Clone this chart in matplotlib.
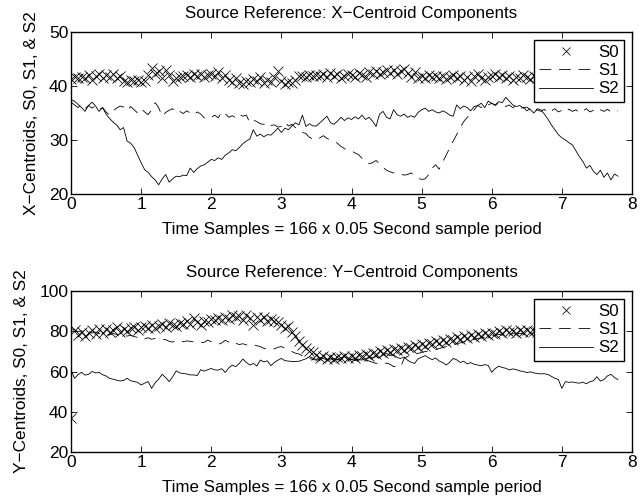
import numpy as np
import matplotlib
matplotlib.use("Agg")
import matplotlib.pyplot as plt

plt.rcParams['font.family'] = ['Liberation Sans', 'DejaVu Sans']

dt = 0.05
n_samples = 157

# ---- X-centroid components ----
x_s0 = [41.3, 41.6, 41.4, 41.7, 41.5, 42.0, 41.2, 41.8, 42.3, 41.5, 42.0, 41.7, 42.2, 41.4, 41.9, 41.0, 40.8, 41.2, 40.9, 41.1,
        40.8, 41.0, 42.0, 43.3, 42.2, 42.8, 41.5, 43.0, 42.0, 41.0, 41.4, 41.6, 41.8, 42.1, 41.7, 42.3, 41.9, 42.2, 41.6, 42.0,
        42.2, 41.8, 42.5, 41.5, 42.0, 41.2, 40.8, 41.5, 40.6, 40.4, 41.0, 40.7, 41.3, 40.9, 41.7, 40.5, 41.2, 40.8, 41.6, 42.7,
        41.0, 40.4, 40.8, 40.5, 41.2, 41.8, 41.9, 41.7, 42.0, 41.8, 42.1, 41.9, 42.3, 41.6, 42.4, 41.8, 42.2, 41.5, 41.9, 42.3,
        42.0, 41.6, 42.4, 42.1, 41.7, 42.5, 42.2, 42.8, 42.3, 42.6, 43.0, 42.4, 42.9, 42.2, 42.7, 43.2, 42.4, 41.6, 42.6, 41.5,
        41.8, 41.4, 42.0, 41.6, 41.9, 41.5, 41.8, 41.3, 41.7, 42.1, 41.4, 41.9, 41.2, 41.6, 41.0, 41.8, 42.2, 41.5, 41.1, 41.7,
        41.9, 42.3, 41.6, 42.0, 41.4, 41.8, 41.2, 41.7, 41.5, 42.0, 41.6, 41.3, 41.8, 41.5, 41.9, 41.4, 41.7, 41.2, 41.6, 41.8,
        41.5, 41.9, 41.3, 41.7, 41.4, 41.8, 41.6, 41.2, 41.7, 41.5, 41.9, 41.4, 41.6, 41.3, 41.8, 41.5, 41.7]
x_s1 = [37.0, 36.5, 36.0, 36.6, 35.8, 36.4, 35.9, 36.3, 35.6, 36.0, 35.2, 34.6, 35.4, 35.9, 36.3, 36.1, 35.4, 36.2, 35.6, 35.0,
        35.8, 35.2, 34.7, 35.6, 36.9, 36.0, 34.4, 35.1, 35.5, 35.8, 35.0, 35.3, 34.9, 35.4, 35.0, 34.6, 35.2, 34.8, 34.1, 33.9,
        34.2, 34.6, 34.1, 35.3, 34.9, 34.2, 34.5, 34.1, 34.8, 34.4, 34.6, 33.2, 33.7, 33.4, 33.0, 32.9, 33.3, 32.7, 32.8, 32.4,
        32.5, 33.3, 32.6, 32.9, 32.3, 31.8, 31.4, 31.2, 30.5, 30.2, 30.0, 30.4, 30.8, 30.3, 30.0, 29.8, 29.4, 28.8, 28.4, 28.1,
        28.0, 27.6, 27.3, 26.6, 26.0, 25.6, 25.8, 26.2, 25.6, 24.9, 24.4, 24.1, 23.9, 24.0, 23.7, 23.5, 23.6, 23.9, 23.4, 22.9,
        22.7, 22.8, 23.6, 24.8, 25.4, 24.6, 25.9, 27.2, 28.5, 29.8, 31.0, 32.3, 33.4, 34.2, 34.6, 35.6, 36.4, 36.0, 36.7, 36.5,
        36.8, 36.4, 36.9, 36.6, 36.2, 36.5, 36.0, 36.3, 35.7, 36.1, 35.4, 35.8, 35.1, 35.6, 35.3, 35.7, 35.0, 35.4, 35.8, 35.2,
        35.5, 35.1, 35.7, 35.3, 35.6, 35.0, 35.4, 35.8, 35.2, 35.5, 35.1, 35.6, 35.3, 35.7, 35.2, 35.5, 35.4]
x_s2 = [37.5, 37.2, 36.6, 36.0, 35.3, 36.4, 37.0, 36.3, 35.3, 36.0, 34.8, 34.0, 33.3, 32.8, 31.9, 32.3, 29.8, 29.4, 28.6, 27.2,
        25.8, 24.5, 24.0, 23.2, 22.6, 21.7, 22.8, 23.6, 22.2, 22.8, 23.3, 23.2, 23.5, 23.4, 24.8, 24.0, 24.7, 25.2, 25.4, 25.9,
        26.4, 26.2, 26.7, 26.4, 27.2, 27.6, 28.2, 28.0, 28.6, 29.3, 29.8, 30.2, 31.9, 30.7, 31.1, 30.6, 31.0, 30.9, 31.5, 32.2,
        31.4, 32.2, 31.9, 32.6, 33.2, 32.8, 34.6, 32.5, 33.0, 32.6, 32.6, 33.2, 33.8, 34.4, 33.2, 32.9, 33.5, 34.2, 33.6, 34.1,
        33.8, 34.3, 33.9, 34.6, 33.8, 34.2, 33.5, 32.5, 34.8, 35.3, 34.2, 33.9, 35.6, 34.7, 34.4, 34.8, 34.2, 34.5, 34.2, 35.1,
        35.6, 35.9, 35.3, 35.6, 35.2, 35.0, 35.4, 35.1, 34.6, 34.4, 36.5, 35.8, 36.3, 36.0, 35.4, 36.2, 36.4, 36.8, 36.0, 37.2,
        36.8, 36.5, 37.1, 36.9, 37.9, 37.2, 36.5, 36.2, 36.4, 35.9, 36.1, 35.6, 35.0, 35.8, 35.6, 34.8, 33.9, 32.8, 31.9, 31.0,
        30.4, 30.0, 29.5, 29.1, 28.0, 26.9, 26.0, 24.8, 25.3, 24.2, 23.6, 24.4, 23.1, 23.9, 22.6, 23.7, 23.3]

# ---- Y-centroid components ----
y_s0 = [37.0, 80.5, 78.2, 79.6, 77.8, 79.2, 80.6, 78.4, 80.9, 79.3, 81.0, 79.6, 80.4, 82.0, 79.8, 81.2, 80.1, 81.6, 82.3, 80.8,
        81.9, 82.8, 81.4, 83.2, 81.8, 82.6, 83.5, 82.1, 84.0, 83.1, 82.5, 84.3, 83.6, 85.0, 83.7, 86.8, 84.5, 83.0, 85.2, 84.6,
        86.0, 85.4, 86.6, 85.7, 87.1, 86.2, 88.3, 86.9, 87.6, 85.8, 88.0, 86.4, 83.0, 86.9, 85.4, 87.3, 84.9, 86.1, 85.0, 84.4,
        83.0, 81.5, 82.4, 79.6, 77.5, 75.3, 73.2, 71.6, 70.0, 69.6, 68.2, 66.8, 67.5, 66.2, 67.0, 66.4, 67.3, 66.6, 67.5, 66.9,
        67.8, 66.8, 68.4, 67.6, 68.9, 67.9, 69.2, 68.6, 70.1, 69.3, 70.6, 69.8, 71.2, 70.5, 71.8, 70.9, 72.4, 71.5, 73.1, 72.2,
        73.5, 72.8, 74.2, 73.6, 75.0, 74.1, 75.7, 74.9, 76.3, 75.5, 77.0, 76.2, 77.6, 76.8, 78.2, 77.1, 78.5, 77.7, 79.0, 78.0,
        79.3, 78.6, 80.0, 79.2, 80.6, 79.5, 80.2, 79.0, 80.4, 79.7, 80.8, 79.4, 80.3, 79.8, 80.7, 79.5, 80.1, 79.6, 80.5, 79.9,
        80.2, 79.5, 80.6, 79.8, 80.3, 79.6, 80.4, 79.9, 80.7, 79.4, 80.1, 79.7, 80.5, 79.8, 80.2, 79.6, 80.3]
y_s1 = [81.5, 80.6, 79.8, 80.2, 79.5, 79.9, 79.1, 79.6, 78.8, 79.3, 78.6, 78.2, 78.9, 78.4, 77.8, 78.3, 77.6, 78.0, 77.4, 76.9,
        77.3, 76.2, 76.8, 76.0, 76.5, 76.6, 76.0, 75.8, 75.0, 74.6, 75.4, 75.1, 74.8, 75.2, 75.0, 74.7, 74.9, 74.3, 74.5, 75.6,
        74.8, 73.9, 73.5, 74.2, 75.5, 74.6, 75.3, 74.0, 73.4, 73.8, 73.2, 73.6, 73.3, 72.8, 72.4, 71.5, 71.3, 71.8, 71.2, 72.0,
        72.4, 71.6, 70.8, 69.9, 69.1, 68.7, 67.8, 67.2, 66.5, 66.0, 65.6, 66.1, 65.8, 66.2, 65.7, 66.3, 66.0, 65.5, 66.1, 65.8,
        66.0, 65.4, 66.2, 65.7, 65.9, 65.2, 64.6, 64.0, 64.4, 63.8, 64.2, 63.6, 62.4, 62.8, 62.3, 66.4, 67.5, 68.2, 68.6, 69.0,
        69.5, 69.9, 70.2, 70.6, 70.8, 71.4, 71.9, 72.4, 72.8, 73.3, 73.8, 74.2, 74.7, 75.1, 75.6, 76.0, 76.4, 76.8, 77.1, 77.5,
        77.8, 78.1, 78.4, 78.2, 78.6, 78.5, 78.8, 78.6, 79.0, 78.7, 79.1, 78.9, 79.2, 78.8, 79.3, 79.0, 79.2, 78.9, 79.4, 79.1,
        79.3, 79.0, 79.4, 79.1, 79.5, 79.2, 79.4, 79.0, 79.3, 79.1, 79.5, 79.2, 79.4, 79.0, 79.3, 79.1, 79.4]
y_s2 = [60.7, 56.6, 58.4, 59.6, 58.2, 58.6, 60.0, 59.3, 59.5, 58.4, 57.8, 56.6, 56.2, 55.7, 55.3, 55.6, 56.6, 55.4, 55.0, 54.6,
        53.3, 54.2, 55.0, 51.6, 54.4, 56.2, 58.6, 57.0, 55.0, 57.4, 60.3, 59.3, 59.0, 58.8, 58.3, 58.3, 58.0, 60.9, 60.2, 60.9,
        61.5, 60.8, 60.7, 61.4, 59.5, 61.8, 63.2, 62.4, 64.0, 66.2, 64.5, 63.2, 64.0, 62.7, 65.7, 64.8, 65.3, 62.9, 64.5, 65.6,
        66.5, 65.4, 65.2, 64.9, 65.0, 65.1, 65.7, 66.3, 67.4, 66.6, 66.0, 67.0, 66.4, 65.9, 66.8, 66.2, 65.7, 66.9, 67.4, 66.6,
        66.0, 66.5, 65.9, 65.7, 66.4, 67.0, 66.8, 67.4, 67.0, 68.2, 69.0, 67.8, 68.4, 66.9, 66.5, 67.2, 65.6, 64.6, 64.0, 66.3,
        67.1, 67.9, 66.8, 65.9, 66.7, 65.2, 64.5, 63.2, 64.6, 66.5, 65.8, 64.5, 65.1, 63.8, 64.4, 63.6, 63.2, 62.9, 63.4, 63.0,
        59.6, 61.5, 62.6, 62.0, 61.6, 60.8, 61.3, 60.9, 60.3, 60.0, 59.5, 59.8, 59.3, 59.0, 58.8, 58.9, 58.5, 57.6, 56.6, 56.0,
        51.6, 55.0, 54.6, 54.8, 54.4, 54.2, 54.7, 53.9, 54.9, 55.4, 57.4, 55.2, 56.0, 57.8, 58.6, 57.0, 56.0]

t = np.arange(n_samples) * dt

titles = ["Source Reference: X\u2212Centroid Components", "Source Reference: Y\u2212Centroid Components"]
ylabels = ["X\u2212Centroids, S0, S1, & S2", "Y\u2212Centroids, S0, S1, & S2"]
xlabel = "Time Samples = 166 x 0.05 Second sample period"
labels = ["S0", "S1", "S2"]
ylims = [(20, 50), (20, 100)]
yticks = [[20, 30, 40, 50], [20, 40, 60, 80, 100]]

fig = plt.figure(figsize=(6.44, 5.01), dpi=100)
W, H = 644, 501
ax_px = [(71, 32, 632, 194), (71, 291, 632, 452)]
data = [(x_s0, x_s1, x_s2), (y_s0, y_s1, y_s2)]

fs = 12.2
for i in range(2):
    l, tp, r, b = ax_px[i]
    ax = fig.add_axes([l / W, 1 - b / H, (r - l) / W, (b - tp) / H])
    s0, s1, s2 = data[i]
    ax.plot(t, s0, linestyle='none', marker='x', color='black', markersize=6.5, markeredgewidth=0.55, label=labels[0])
    ax.plot(t, s1, linestyle=(0, (14, 9.5)), color='black', linewidth=0.6, label=labels[1])
    ax.plot(t, s2, linestyle='-', color='black', linewidth=0.6, label=labels[2])
    ax.set_xlim(0, 8)
    ax.set_ylim(*ylims[i])
    ax.set_xticks(range(0, 9))
    ax.set_yticks(yticks[i])
    ax.tick_params(direction='in', top=True, right=True, length=4, width=0.6, labelsize=fs + 0.3, pad=2)
    for sp in ax.spines.values():
        sp.set_linewidth(1.0)
    ax.set_title(titles[i], fontsize=fs, pad=10)
    ax.set_xlabel(xlabel, fontsize=fs, labelpad=7.5)
    ax.set_ylabel(ylabels[i], fontsize=fs + 0.2, labelpad=7)
    leg = ax.legend(loc='upper right', numpoints=1, fontsize=fs, fancybox=False, framealpha=1,
                    edgecolor='black', handlelength=3.2, borderaxespad=0.45, labelspacing=0.2,
                    handletextpad=0.3, borderpad=0.3, markerscale=0.85)
    leg.get_frame().set_linewidth(1.0)

fig.savefig("out.png", dpi=100)
